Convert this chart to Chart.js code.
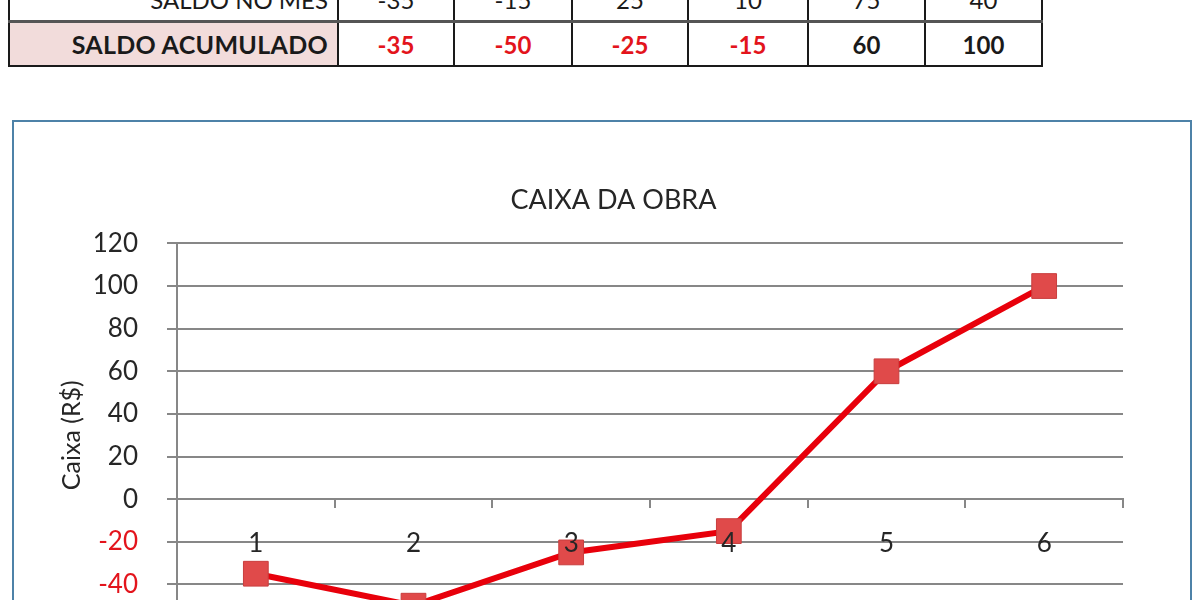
<!DOCTYPE html>
<html>
<head>
<meta charset="utf-8">
<script src="https://cdn.jsdelivr.net/npm/chart.js@4.4.1/dist/chart.umd.min.js"></script>
<style>
  html, body { margin: 0; padding: 0; background: #fff; width: 1200px; height: 600px; overflow: hidden; }
  #tabela { position: absolute; left: 8px; top: -24px; border-collapse: collapse; table-layout: fixed;
            font-family: Lato, "Liberation Sans", sans-serif; }
  #tabela td { border: 2px solid #1a1a1a; height: 42px; padding: 0; text-align: center;
               font-size: 24px; color: #1a1a1a; }
  #tabela td.rot { text-align: right; padding-right: 9px; }
  #tabela tr.mes td { border-bottom: 3px solid #555; }
  #tabela tr.acum td { font-weight: bold; }
  #tabela tr.acum td.rot { background: #f2dcdb; font-size: 25px; letter-spacing: 0.3px; }
  #tabela td.neg { color: #e3141c; }
  #caixa { position: absolute; left: 12px; top: 120px; width: 1180px; height: 600px;
           border: 2px solid #4d82a8; box-sizing: border-box; background: #fff; }
  #caixa canvas { position: absolute; left: 0; top: 0; }
</style>
</head>
<body>
<table id="tabela">
  <colgroup>
    <col style="width:329px"><col style="width:116px"><col style="width:118px"><col style="width:116px">
    <col style="width:120px"><col style="width:117px"><col style="width:117px">
  </colgroup>
  <tbody></tbody>
</table>
<div id="caixa"><canvas id="grafico" width="1176" height="596"></canvas></div>
<script>
// dados da planilha
const meses = ["1", "2", "3", "4", "5", "6"];
const saldoMes = [-35, -15, 25, 10, 75, 40];
const saldoAcumulado = [-35, -50, -25, -15, 60, 100];

const tituloGrafico = "CAIXA DA OBRA";
const tituloEixoY = "Caixa (R$)";

// monta as duas linhas visiveis da tabela
const corpo = document.querySelector("#tabela tbody");
function linha(classe, rotulo, valores, marcaNeg) {
    const tr = document.createElement("tr");
    tr.className = classe;
    let html = '<td class="rot">' + rotulo + "</td>";
    valores.forEach((v) => {
        const cls = marcaNeg && v < 0 ? ' class="neg"' : "";
        html += "<td" + cls + ">" + v + "</td>";
    });
    tr.innerHTML = html;
    corpo.appendChild(tr);
}
linha("mes", "SALDO NO MÊS", saldoMes, false);
linha("acum", "SALDO ACUMULADO", saldoAcumulado, true);

const cinza = "#878787";
const fonte = "Lato";

new Chart(document.getElementById("grafico"), {
    type: "line",
    data: {
        labels: meses,
        datasets: [{
            label: tituloGrafico,
            data: saldoAcumulado,
            borderColor: "#e8000b",
            borderWidth: 6,
            tension: 0,
            pointStyle: "rect",
            pointRadius: 17.5,
            pointHoverRadius: 17.5,
            pointBackgroundColor: "#e04a4a",
            pointBorderColor: "#c93e3e",
            pointBorderWidth: 1,
        }],
    },
    options: {
        responsive: false,
        animation: false,
        events: [],
        layout: { padding: { left: 23, right: 0, top: 0, bottom: 91 } },
        plugins: {
            legend: { display: false },
            tooltip: { enabled: false },
            title: {
                display: true,
                text: tituloGrafico,
                color: "#262626",
                font: { family: fonte, size: 27, weight: "normal" },
                padding: { top: 62, bottom: 27 },
            },
        },
        scales: {
            x: {
                position: { y: 0 },
                offset: true,
                grid: { drawOnChartArea: false, offset: true, tickLength: 8, color: cinza, lineWidth: 2 },
                border: { color: cinza, width: 2 },
                ticks: { color: "#262626", padding: 21, z: 1, font: { family: fonte, size: 26 } },
            },
            y: {
                min: -60,
                max: 120,
                afterFit: (s) => { s.width = 140; },
                grid: { color: cinza, lineWidth: 2, tickLength: 10 },
                border: { color: cinza, width: 2 },
                ticks: {
                    stepSize: 20,
                    padding: 29,
                    font: { family: fonte, size: 26 },
                    color: (c) => (c.tick && c.tick.value < 0 ? "#e3141c" : "#262626"),
                },
                title: {
                    display: true,
                    text: tituloEixoY,
                    color: "#262626",
                    font: { family: fonte, size: 25 },
                    padding: { top: 20, bottom: 0 },
                },
            },
            // margem direita vazia da area do grafico
            margemDireita: {
                position: "right",
                grid: { display: false, drawTicks: false },
                border: { display: false },
                ticks: { display: false },
                afterFit: (s) => { s.width = 67; },
            },
        },
    },
});
</script>
</body>
</html>
